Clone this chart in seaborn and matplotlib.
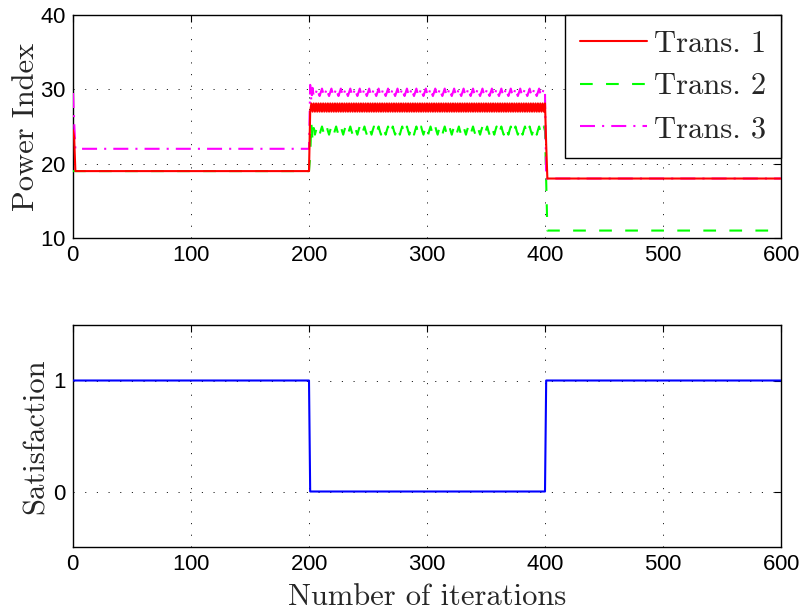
import numpy as np
import pandas as pd
import matplotlib
matplotlib.use("Agg")
import matplotlib.pyplot as plt
from matplotlib.font_manager import FontProperties
import seaborn as sns

# ---------------- data ----------------
iterations = np.arange(0, 601)

# Trans. 1 (red)
t1_head = [24.5, 23.5]          # iterations 0-1
t1_level_a = 19.0               # iterations 2-200
t1_cycle = [27.0, 28.1]         # oscillation, iterations 201-400
t1_drop = [22.6]                # iteration 401
t1_level_c = 18.0               # iterations 402-600

# Trans. 2 (green)
t2_level_a = 19.0               # iterations 0-200 (hidden under red)
t2_transient = [21.0, 25.5, 23.2, 24.8]   # iterations 201-204
t2_cycle = [23.9, 24.5, 25.0, 24.4]       # iterations 205-400
t2_drop = [17.5]                # iteration 401
t2_level_c = 11.0               # iterations 402-600

# Trans. 3 (magenta)
t3_head = [29.5, 25.5]          # iterations 0-1
t3_level_a = 22.0               # iterations 2-200
t3_transient = [30.6, 28.4, 30.2, 29.0]   # iterations 201-204
t3_cycle = [29.1, 29.6, 30.1, 29.5]       # iterations 205-400
t3_level_c = 18.0               # iterations 401-600 (hidden under red)

# Satisfaction
sat_levels = [1.0, 0.0, 1.0]    # phases 0-200, 201-400, 401-600

series_names = ["Trans. 1", "Trans. 2", "Trans. 3"]
x_ticks = [0, 100, 200, 300, 400, 500, 600]
power_ticks = [10, 20, 30, 40]
sat_ticks = [0, 1]

# ---------------- assemble series ----------------
trans1 = np.concatenate([t1_head, np.full(199, t1_level_a), np.tile(t1_cycle, 100),
                         t1_drop, np.full(199, t1_level_c)])
trans2 = np.concatenate([np.full(201, t2_level_a), t2_transient, np.tile(t2_cycle, 49),
                         t2_drop, np.full(199, t2_level_c)])
trans3 = np.concatenate([t3_head, np.full(199, t3_level_a), t3_transient,
                         np.tile(t3_cycle, 49), np.full(200, t3_level_c)])
satisfaction = np.concatenate([np.full(201, sat_levels[0]), np.full(200, sat_levels[1]),
                               np.full(200, sat_levels[2])])

df = pd.DataFrame({"it": iterations, "t1": trans1, "t2": trans2, "t3": trans3,
                   "sat": satisfaction})

# ---------------- style ----------------
sns.set_style("white")
plt.rcParams["font.family"] = ["Liberation Sans", "DejaVu Sans"]
plt.rcParams["axes.formatter.use_mathtext"] = True
serif = FontProperties(family="cmr10", size=22)

fig = plt.figure(figsize=(8, 6.1), dpi=100)
W, H = 800, 610
ax1 = fig.add_axes([73 / W, 1 - 238 / H, 708 / W, 223 / H])
ax2 = fig.add_axes([73 / W, 1 - 547 / H, 708 / W, 222 / H])

lw = 1.5
sns.lineplot(data=df, x="it", y="t1", ax=ax1, color=(1, 0, 0), lw=lw,
             label=series_names[0], estimator=None, zorder=4)
sns.lineplot(data=df, x="it", y="t2", ax=ax1, color=(0, 1, 0), lw=lw,
             linestyle=(0, (6.1, 6.4)), label=series_names[1], estimator=None, zorder=3)
sns.lineplot(data=df, x="it", y="t3", ax=ax1, color=(1, 0, 1), lw=lw,
             linestyle=(0, (7.2, 3.4, 1.0, 3.4)), label=series_names[2],
             estimator=None, zorder=3.5)
sns.lineplot(data=df, x="it", y="sat", ax=ax2, color=(0, 0, 1), lw=lw, estimator=None,
             zorder=4)

for ax in (ax1, ax2):
    ax.set_xlim(0, 600)
    ax.set_xticks(x_ticks)
    ax.grid(True, color="k", lw=0.6, linestyle=(0, (1.4, 12.6)))
    ax.tick_params(direction="in", length=5, width=0.8, top=True, right=True,
                   labelsize=16, pad=5, colors="k")
    for s in ax.spines.values():
        s.set_visible(True)
        s.set_color("k")
        s.set_linewidth(1.0)
    ax.set_facecolor("white")

ax1.set_ylim(10, 40)
ax1.set_yticks(power_ticks)
ax2.set_ylim(-0.5, 1.5)
ax2.set_yticks(sat_ticks)

ax1.set_xlabel("")
ax1.set_ylabel("Power Index", fontproperties=serif)
ax2.set_ylabel("Satisfaction", fontproperties=serif)
ax2.set_xlabel("Number of iterations", fontproperties=serif)
ax1.yaxis.set_label_coords(-0.047, 0.5)
ax2.yaxis.set_label_coords(-0.033, 0.5)
ax2.xaxis.set_label_coords(0.5, -0.163)

leg = ax1.legend(loc="upper right", borderaxespad=0, fancybox=False, edgecolor="k",
                 framealpha=1, prop=serif, handlelength=2.2, handletextpad=0.2,
                 borderpad=0.5, labelspacing=0.5)
leg.get_frame().set_linewidth(1.0)
leg.set_zorder(10)

fig.savefig("out.png", dpi=100)
